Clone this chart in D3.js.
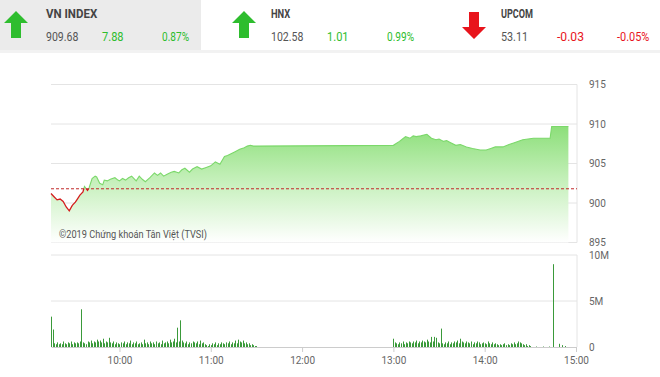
<!DOCTYPE html>
<html>
<head>
<meta charset="utf-8">
<script src="https://cdn.jsdelivr.net/npm/d3@7"></script>
<style>
  body { margin: 0; background: #fff; font-family: Roboto, "Noto Sans", sans-serif; }
  svg { display: block; }
</style>
</head>
<body>
<div id="chart"></div>
<script>
// header indices
const indexNames = ["VN INDEX", "HNX", "UPCOM"];
const indexValues = [909.68, 102.58, 53.11];
const indexChanges = [7.88, 1.01, -0.03];
const indexPct = [0.87, 0.99, -0.05];

// price series (time, VN-Index)
const priceTimes = ["09:15","09:17","09:19","09:21","09:23","09:25","09:27","09:29","09:31","09:32","09:34","09:36","09:37","09:39","09:40","09:42","09:44","09:45","09:47","09:49","09:50","09:52","09:54","09:57","09:59","10:00","10:02","10:04","10:06","10:08","10:10","10:11","10:13","10:15","10:17","10:20","10:23","10:25","10:27","10:29","10:31","10:34","10:36","10:39","10:41","10:43","10:46","10:48","10:51","10:54","10:57","11:00","11:03","11:06","11:09","11:11","11:13","11:16","11:19","11:22","11:24","11:26","11:28","11:30","13:00","13:04","13:06","13:08","13:11","13:13","13:15","13:18","13:22","13:25","13:28","13:30","13:33","13:35","13:37","13:41","13:44","13:48","13:52","13:57","14:01","14:04","14:07","14:12","14:16","14:19","14:25","14:32","14:43","14:44","14:55"];
const priceValues = [901.2,900.8,900.4,900.5,900.2,899.5,899.0,899.7,900.1,900.4,901.0,901.4,902.1,901.6,901.9,903.1,903.4,903.3,902.5,902.3,902.9,902.8,903.0,903.2,902.9,902.8,903.1,902.9,903.2,903.4,903.0,902.8,903.4,903.0,902.7,903.2,903.8,903.5,903.8,903.4,903.6,903.9,904.0,903.8,904.2,904.4,903.9,904.3,904.6,904.3,904.5,904.7,905.2,904.9,905.9,906.0,906.2,906.5,906.8,907.0,907.2,907.3,907.2,907.2,907.3,907.8,908.1,908.4,908.2,908.5,908.4,908.5,908.7,908.2,908.0,908.1,907.8,907.9,907.7,907.3,907.4,907.1,906.9,906.7,906.7,906.9,907.1,907.1,907.4,907.6,908.0,908.2,908.2,909.68,909.68];
const refPrice = 901.80;

// volume (millions), one bar per minute
const volAmStart = "09:15";
const volAm = [3.3,1.9,0.4,0.3,0.5,0.3,0.4,0.3,0.6,0.4,0.3,0.5,0.4,0.6,0.3,0.5,0.4,0.5,0.4,0.6,4.1,0.5,0.4,0.3,0.6,0.5,0.7,0.4,0.6,0.5,0.8,0.6,0.7,0.5,0.9,0.4,0.6,0.5,1.0,0.5,0.4,0.6,0.3,0.5,0.4,0.3,0.5,0.4,0.6,0.3,0.5,0.4,0.7,0.3,0.5,0.4,0.6,0.3,0.4,0.5,0.3,0.8,0.4,0.5,0.3,0.6,0.4,0.5,0.3,0.6,0.4,0.5,0.3,0.7,0.4,0.5,0.6,0.4,0.8,0.5,0.6,0.9,0.5,2.1,0.6,2.9,0.7,0.5,0.4,0.6,0.3,0.5,0.4,0.6,0.5,0.4,0.6,0.3,0.7,0.4,0.5,0.3,0.2,0.1,0.3,0.2,0.4,0.3,0.5,0.2,0.4,0.3,0.5,0.4,0.3,0.5,0.4,0.6,0.3,0.5,0.4,0.7,0.4,0.8,0.6,0.5,0.7,0.4,0.5,0.3,0.4,0.2,0.3,0.2,0.1,0.1];
const volPmStart = "13:00";
const volPm = [0.9,0.5,0.4,0.3,0.5,0.4,0.6,0.3,0.5,0.4,0.6,0.5,0.4,0.6,0.5,0.7,0.4,0.6,0.5,0.7,0.6,0.5,0.8,0.6,0.5,1.1,0.6,1.1,1.0,0.5,0.4,2.0,0.4,0.3,0.5,0.4,0.6,0.3,0.5,0.4,0.6,0.5,0.7,0.4,0.9,0.6,0.5,0.4,0.6,0.5,0.4,0.6,0.3,0.5,0.4,0.6,0.5,0.3,0.4,0.5,0.4,0.3,0.6,0.4,0.3,0.5,0.3,0.4,0.3,0.2,0.3,0.2,0.3,0.4,0.2,0.3,0.2,0.4,0.3,0.5,0.3,0.4,0.6,0.5,0.4,0.3,0.2,0.3,0.1,0.2,0.1];
const volLateTimes = ["14:34","14:38","14:42","14:45","14:49","14:51","14:53"];
const volLate = [0.05,0.05,0.05,9.0,0.35,0.2,0.1];

const priceTicks = [915, 910, 905, 900, 895];
const volTicks = [10, 5, 0];
const timeTicks = ["10:00","11:00","12:00","13:00","14:00","15:00"];

const W = 660, H = 377;
const parse = d3.timeParse("%H:%M");
const fmt = d3.timeFormat("%H:%M");

const svg = d3.select("#chart").append("svg").attr("width", W).attr("height", H);

// ---- header ----
svg.append("rect").attr("x", 0).attr("y", 0).attr("width", 201).attr("height", 50).attr("fill", "#ebebeb");
svg.append("rect").attr("x", 0).attr("y", 50).attr("width", W).attr("height", 3).attr("fill", "#f2f2f2");

const blockX = [0, 228, 458];
indexNames.forEach((name, i) => {
  const g = svg.append("g").attr("transform", `translate(${blockX[i]},0)`);
  const up = indexChanges[i] >= 0;
  const col = up ? "#2ebd2e" : "#e8141c";
  // arrow
  const ax = 16, ay = up ? 11 : 39;
  const dir = up ? 1 : -1;
  g.append("path")
    .attr("d", `M${ax},${ay} L${ax + 12},${ay + dir * 12} L${ax + 5},${ay + dir * 12} L${ax + 5},${ay + dir * 27} L${ax - 5},${ay + dir * 27} L${ax - 5},${ay + dir * 12} L${ax - 12},${ay + dir * 12} Z`)
    .attr("fill", col);
  const tx = i === 0 ? 46 : 43;
  g.append("text").attr("x", tx).attr("y", 18).text(name)
    .style("font-size", "12px").style("font-weight", "bold").attr("fill", "#444")
    .attr("textLength", name.length * 6.4).attr("lengthAdjust", "spacingAndGlyphs");
  const vs = indexValues[i].toFixed(2);
  g.append("text").attr("x", tx).attr("y", 41).text(vs)
    .style("font-size", "12px").attr("fill", "#555")
    .attr("textLength", vs.length * 5.4).attr("lengthAdjust", "spacingAndGlyphs");
  const cs = indexChanges[i].toFixed(2);
  g.append("text").attr("x", tx + 56).attr("y", 41).text(cs)
    .style("font-size", "12px").attr("fill", col)
    .attr("textLength", cs.length * 5.4).attr("lengthAdjust", "spacingAndGlyphs");
  const ps = indexPct[i].toFixed(2) + "%";
  g.append("text").attr("x", tx + 116).attr("y", 41).text(ps)
    .style("font-size", "12px").attr("fill", col)
    .attr("textLength", ps.length * 5.4).attr("lengthAdjust", "spacingAndGlyphs");
});

// ---- scales ----
const x = d3.scaleTime().domain([parse("09:15"), parse("15:00")]).range([51, 576]);
const y = d3.scaleLinear().domain([895, 915]).range([242.5, 84.5]);
const yv = d3.scaleLinear().domain([0, 10]).range([347, 255]);

const price = priceTimes.map((t, i) => ({ t: parse(t), v: priceValues[i] }));

const grid = "#e4e4e4";
// price grid
svg.append("g").selectAll("line").data(priceTicks).join("line")
  .attr("x1", 51).attr("x2", 577).attr("y1", d => y(d)).attr("y2", d => y(d))
  .attr("stroke", grid).attr("stroke-width", 1);
svg.append("line").attr("x1", 577).attr("x2", 577).attr("y1", y(915)).attr("y2", y(895)).attr("stroke", grid);

// gradient
const defs = svg.append("defs");
const grad = defs.append("linearGradient").attr("id", "fillg")
  .attr("gradientUnits", "userSpaceOnUse").attr("x1", 0).attr("x2", 0)
  .attr("y1", y(910)).attr("y2", y(895));
grad.append("stop").attr("offset", "0").attr("stop-color", "#8ade77");
grad.append("stop").attr("offset", "0.45").attr("stop-color", "#c2efb7");
grad.append("stop").attr("offset", "1").attr("stop-color", "#ffffff");

const area = d3.area().x(d => x(d.t)).y0(y(895)).y1(d => y(d.v));
svg.append("path").datum(price).attr("d", area).attr("fill", "url(#fillg)");

defs.append("clipPath").attr("id", "above").append("rect")
  .attr("x", 0).attr("y", 0).attr("width", W).attr("height", y(refPrice));
defs.append("clipPath").attr("id", "below").append("rect")
  .attr("x", 0).attr("y", y(refPrice)).attr("width", W).attr("height", H);

const line = d3.line().x(d => x(d.t)).y(d => y(d.v));
svg.append("path").datum(price).attr("d", line).attr("fill", "none")
  .attr("stroke", "#7bd86a").attr("stroke-width", 1.1).attr("clip-path", "url(#above)");
svg.append("path").datum(price).attr("d", line).attr("fill", "none")
  .attr("stroke", "#d41e1e").attr("stroke-width", 1.3).attr("clip-path", "url(#below)");

// reference line
svg.append("line").attr("x1", 51).attr("x2", 577).attr("y1", y(refPrice)).attr("y2", y(refPrice))
  .attr("stroke", "#c0282a").attr("stroke-width", 1).attr("stroke-dasharray", "3,2");

// watermark
svg.append("text").attr("x", 59).attr("y", 238).text("©2019 Chứng khoán Tân Việt (TVSI)")
  .style("font-size", "10.5px").attr("fill", "#555")
  .attr("textLength", 148).attr("lengthAdjust", "spacingAndGlyphs");

// price axis labels
svg.append("g").selectAll("text").data(priceTicks).join("text")
  .attr("x", 589).attr("y", d => y(d) + 3.5).text(d => d)
  .style("font-size", "10px").attr("fill", "#666");

// ---- volume ----
svg.append("g").selectAll("line").data([10, 5]).join("line")
  .attr("x1", 51).attr("x2", 577).attr("y1", d => yv(d)).attr("y2", d => yv(d))
  .attr("stroke", grid);
svg.append("line").attr("x1", 577).attr("x2", 577).attr("y1", yv(10)).attr("y2", yv(0)).attr("stroke", grid);

const vols = [];
volAm.forEach((v, i) => vols.push({ t: d3.timeMinute.offset(parse(volAmStart), i), v }));
volPm.forEach((v, i) => vols.push({ t: d3.timeMinute.offset(parse(volPmStart), i), v }));
volLateTimes.forEach((t, i) => vols.push({ t: parse(t), v: volLate[i] }));

svg.append("g").selectAll("rect").data(vols).join("rect")
  .attr("x", d => Math.round(x(d.t))).attr("width", 1)
  .attr("y", d => yv(d.v)).attr("height", d => yv(0) - yv(d.v))
  .attr("fill", "#3a9a3a");

// x axis
const xAxis = d3.axisBottom(x).tickValues(timeTicks.map(parse)).tickFormat(fmt).tickSize(5).tickSizeOuter(0);
const gx = svg.append("g").attr("transform", `translate(0,${yv(0)})`).call(xAxis);
gx.select(".domain").attr("stroke", "#ccc");
gx.selectAll(".tick line").attr("stroke", "#ccc");
gx.selectAll(".tick text").attr("fill", "#666").style("font-size", "10px").style("font-family", "Roboto").attr("dy", "0.9em");

svg.append("g").selectAll("text").data(volTicks).join("text")
  .attr("x", 589).attr("y", d => yv(d) + (d === 0 ? 4 : 3.5)).text(d => d === 0 ? "0" : d + "M")
  .style("font-size", "10px").attr("fill", "#666");
</script>
</body>
</html>
